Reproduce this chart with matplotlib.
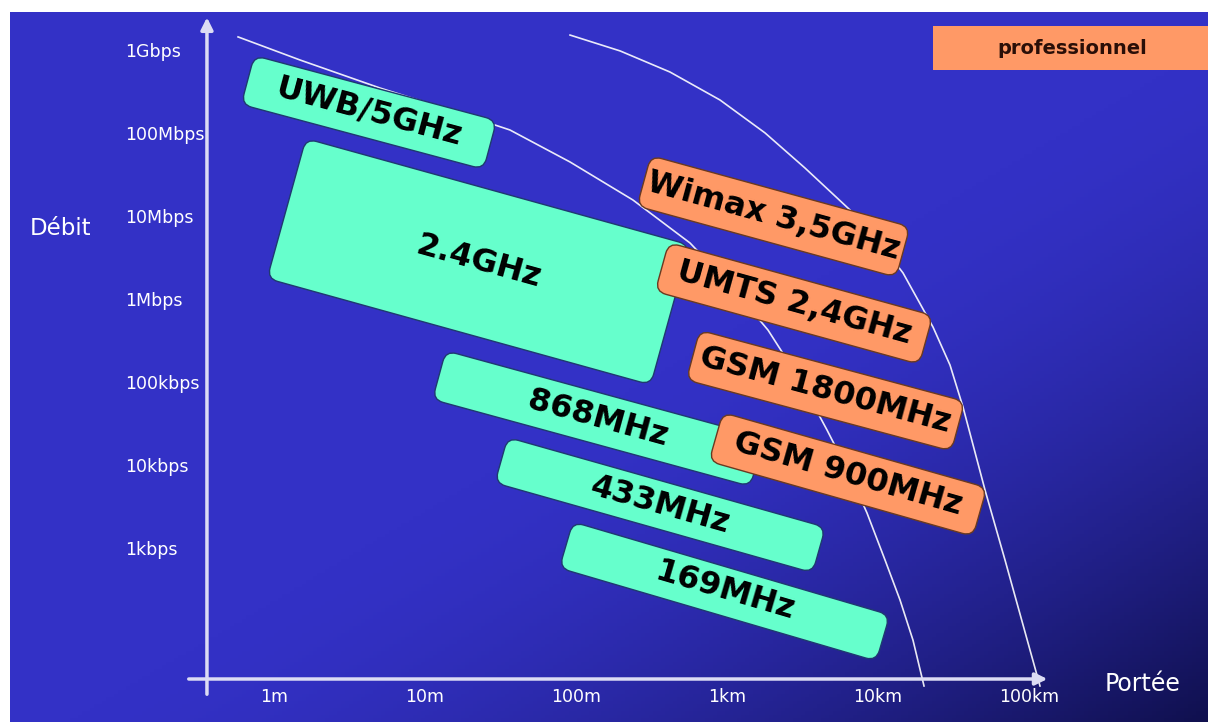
import numpy as np
import matplotlib.pyplot as plt
from matplotlib.patches import FancyBboxPatch, Rectangle
from matplotlib.transforms import Affine2D

# Axis ticks
range_ticks = [1, 10, 100, 1e3, 1e4, 1e5]
range_labels = ['1m', '10m', '100m', '1km', '10km', '100km']
rate_ticks = [1e3, 1e4, 1e5, 1e6, 1e7, 1e8, 1e9]
rate_labels = ['1kbps', '10kbps', '100kbps', '1Mbps', '10Mbps', '100Mbps', '1Gbps']

# Technologies: band from (range_start, rate_start) to (range_end, rate_end), thickness in decades of rate
tech_names = ['UWB/5GHz', '2.4GHz', '868MHz', '433MHz', '169MHz',
              'Wimax 3,5GHz', 'UMTS 2,4GHz', 'GSM 1800MHz', 'GSM 900MHz']
range_start = [0.67, 1.21, 12.4, 32, 86, 282, 371, 596, 845]
rate_start = [4.6e8, 1.3e7, 1.28e5, 1.21e4, 1150, 2.8e7, 2.57e6, 2.23e5, 2.3e4]
range_end = [27, 420, 1580, 4070, 10800, 14650, 20800, 33900, 47300]
rate_end = [7.6e7, 6.8e5, 1.15e4, 1000, 87, 3.9e6, 3.4e5, 3.1e4, 2870]
thickness = [0.61, 1.75, 0.61, 0.57, 0.58, 0.63, 0.61, 0.62, 0.61]
is_pro = [False, False, False, False, False, True, True, True, True]

# Limit curves (range m, rate bps)
inner_range = [0.578, 1.49, 5.04, 14.6, 36.5, 91.3, 238, 569, 1047, 1868, 3044,
               4596, 6525, 8457, 11130, 13990, 17050, 20170]
inner_rate = [1.52e9, 8.0e8, 3.68e8, 2.0e8, 1.15e8, 4.73e7, 1.65e7, 5.0e6, 1.56e6,
              4.47e5, 1.12e5, 2.79e4, 8010, 2791, 758, 250, 82, 23]
outer_range = [91.3, 196, 419, 899, 1785, 3285, 6525, 10310, 14640, 23130,
               29990, 36550, 51130, 69360, 118250]
outer_rate = [1.6e9, 1.03e9, 5.74e8, 2.64e8, 1.06e8, 4.0e7, 1.25e7, 5.0e6, 2.18e6,
              4.86e5, 1.69e5, 5.28e4, 5283, 758, 23]

W, H = 1208, 722
fig = plt.figure(figsize=(W / 100, H / 100), dpi=100, facecolor='white')

# background gradient
bg = fig.add_axes([10 / W, 0, 1 - 10 / W, 1 - 12 / H])
u, v = np.meshgrid(np.linspace(0, 1, 300), np.linspace(0, 1, 200))
w = np.clip((u + v - 1.05) / 0.95, 0, 1) ** 1.6
base = np.array([51, 49, 198]) / 255
dark = np.array([16, 16, 78]) / 255
img = base[None, None, :] * (1 - w[..., None]) + dark[None, None, :] * w[..., None]
bg.imshow(img, aspect='auto', extent=[0, 1, 0, 1], origin='upper')
bg.axis('off')

ax = fig.add_axes([0, 0, 1, 1])
ax.set_xscale('log')
ax.set_yscale('log')
ax.set_xlim(10 ** -1.8146, 10 ** 6.1854)
ax.set_ylim(10 ** 0.928, 10 ** 9.6265)
ax.patch.set_alpha(0)
ax.axis('off')

axis_col = '#dcdcf4'
ax.annotate('', xy=(10 ** 5.14, 10 ** 1.446), xytext=(10 ** -0.583, 10 ** 1.446),
            arrowprops=dict(arrowstyle='-|>', color=axis_col, lw=2.5, mutation_scale=18))
ax.annotate('', xy=(10 ** -0.444, 10 ** 9.45), xytext=(10 ** -0.444, 10 ** 1.229),
            arrowprops=dict(arrowstyle='-|>', color=axis_col, lw=2.5, mutation_scale=18))

for t, lab in zip(range_ticks, range_labels):
    ax.text(t, 10 ** 1.229, lab, color='white', fontsize=12.5, ha='center', va='center')
for t, lab in zip(rate_ticks, rate_labels):
    ax.text(0.103, t, lab, color='white', fontsize=12.5, ha='left', va='center')

ax.text(10 ** -1.62, 10 ** 6.87, 'Débit', color='white', fontsize=16.5, ha='left', va='center')
ax.text(10 ** 5.5, 10 ** 1.38, 'Portée', color='white', fontsize=17, ha='left', va='center')

ax.plot(inner_range, inner_rate, color='white', lw=1.2, alpha=0.9, zorder=2)
ax.plot(outer_range, outer_rate, color='white', lw=1.2, alpha=0.9, zorder=2)

dec_px = ax.transData.transform((1, 10))[1] - ax.transData.transform((1, 1))[1]
order = [i for i in range(len(tech_names)) if not is_pro[i]] + [i for i in range(len(tech_names)) if is_pro[i]]
for i in order:
    p0 = ax.transData.transform((range_start[i], rate_start[i]))
    p1 = ax.transData.transform((range_end[i], rate_end[i]))
    c = (p0 + p1) / 2
    L = np.hypot(*(p1 - p0))
    ang = np.degrees(np.arctan2(p1[1] - p0[1], p1[0] - p0[0]))
    T = thickness[i] * dec_px
    fc = '#ff9966' if is_pro[i] else '#66ffcc'
    ec = '#6a3a20' if is_pro[i] else '#1f3a70'
    box = FancyBboxPatch((c[0] - L / 2, c[1] - T / 2), L, T,
                         boxstyle='round,pad=0,rounding_size=11',
                         transform=Affine2D().rotate_deg_around(c[0], c[1], ang),
                         facecolor=fc, edgecolor=ec, lw=1.0, zorder=3)
    ax.add_patch(box)
    cx = np.sqrt(range_start[i] * range_end[i])
    cy = np.sqrt(rate_start[i] * rate_end[i])
    ax.text(cx, cy, tech_names[i], rotation=ang, rotation_mode='anchor',
            ha='center', va='center', fontsize=23, fontweight='bold', color='black', zorder=4)

# "professionnel" tag
fig.patches.append(Rectangle((933 / W, 1 - 70 / H), 1 - 933 / W, 44 / H,
                             transform=fig.transFigure, facecolor='#ff9966', edgecolor='none'))
fig.text(1072 / W, 1 - 49 / H, 'professionnel', color='#2a0f08', fontsize=14,
         fontweight='bold', ha='center', va='center')

fig.savefig('out.png', dpi=100, facecolor='white')
